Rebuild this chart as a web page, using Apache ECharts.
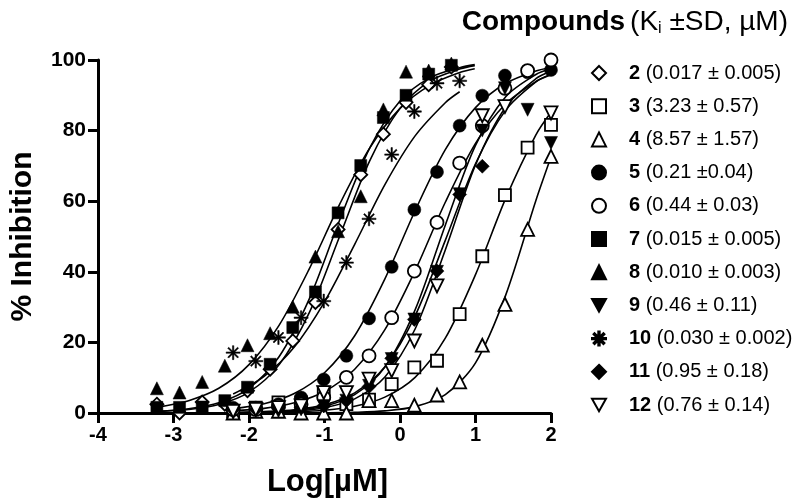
<!DOCTYPE html>
<html>
<head>
<meta charset="utf-8">
<script src="https://cdn.jsdelivr.net/npm/echarts@6/dist/echarts.min.js"></script>
<style>
html,body{margin:0;padding:0;background:#fff;}
#main{width:799px;height:503px;}
</style>
</head>
<body>
<div id="main"></div>
<script>
// concentrations (log uM)
var xPotent = [-3.22,-2.92,-2.62,-2.32,-2.02,-1.72,-1.42,-1.12,-0.82,-0.52,-0.22,0.08,0.38,0.68];
var xWeak = [-2.21,-1.91,-1.61,-1.31,-1.01,-0.71,-0.41,-0.11,0.19,0.49,0.79,1.09,1.39,1.69,2.0];

// % inhibition, measured points
var c2 = [2.5,0,3.1,2.5,6.3,12.4,20.4,31.3,52,67.5,79,88,93,98];
var c7 = [1.6,1.6,1.7,3.5,7.3,13.8,24.2,34.3,56.7,70.1,83.7,90,96,98.5];
var c8 = [7.0,5.8,8.8,13.4,19.2,22.6,30.1,44.3,51.5,61.4,86,96.7,97,99];
var c10 = [17.1,14.7,21.4,27.0,31.7,42.6,55,73.2,85.4,93.4,94.1];
var c3 = [0.5,1.5,3,3,5.8,2.5,3.8,8.2,12.9,14.8,28,44.4,61.7,75.2,81.6];
var c4 = [0,0.5,0.5,0,0,0,3.5,3.5,2.2,5.1,8.8,19.2,30.8,52,72.7];
var c5 = [1.5,1.5,2.5,4.4,9.5,16.2,26.8,41.4,57.6,68.3,81.4,89.9,95.6,96.5,97.2];
var c6 = [1,1,2,2.5,4.4,10.1,16.2,27,40.2,54,70.8,81.4,92,97,100];
var c9 = [0,1,0.5,1,2,3.5,7.7,15.3,26.5,40,62,80,92,85.9,76.5];
var c11 = [1,1,1.5,1.5,2,3.5,7.5,15.5,26.5,40.2,61.9,69.9];
var c12 = [0.5,1,1.5,2,5.8,5.8,9.6,12,20.4,36,null,84.2,86.8,null,85];

// fitted curves
var fitXPotent = [-3.22,-2.8,-2.4,-2.0,-1.6,-1.2,-0.8,-0.4,0,0.4,0.8,0.99];
var fit2 = [0.4,1.0,2.4,5.9,13.7,28.5,50.0,71.5,86.3,94.1,97.5,98.4];
var fit7 = [0.45,1.2,2.9,7.0,16.0,32.4,54.6,75.1,88.4,95.0,97.9,98.7];
var fit8 = [1.6,3.5,7.0,13.7,24.9,40.9,59.1,75.1,86.3,92.9,96.5,97.5];
var fitX10 = [-2.21,-1.8,-1.4,-1.0,-0.6,-0.2,0.2,0.6,0.79];
var fit10 = [5.4,10.4,18.7,31.5,47.8,64.7,78.5,87.9,91.0];
var fitXWeak = [-2.21,-1.8,-1.4,-1.0,-0.6,-0.2,0.2,0.6,1.0,1.4,1.8,2.0];
var fit3 = [0.06,0.14,0.34,0.8,1.9,4.5,10.1,21.2,39.2,60.8,78.8,85.2];
var fit4 = [0,0,0.02,0.07,0.2,0.6,1.8,5.2,14.2,33.4,60.2,72.5];
var fit5 = [1.2,2.6,5.5,11.4,21.9,38.0,57.3,74.6,86.5,93.4,96.9,97.8];
var fit6 = [0.6,1.3,2.9,6.1,12.4,23.6,40.3,59.7,76.4,87.6,93.9,95.8];
var fit9 = [0.09,0.26,0.7,1.9,5.2,13.0,29.2,53.2,75.8,89.6,95.9,97.5];
var fit11 = [0.15,0.4,0.9,2.3,5.7,13.1,27.5,48.9,70.6,85.8,93.8,96.0];
var fit12 = [0.07,0.2,0.5,1.5,4.0,10.2,23.8,46.2,70.3,86.7,94.7,96.8];

var names = ['2','3','4','5','6','7','8','9','10','11','12'];
var kiText = ['(0.017 \u00b1 0.005)','(3.23 \u00b1 0.57)','(8.57 \u00b1 1.57)','(0.21 \u00b10.04)','(0.44 \u00b1 0.03)',
  '(0.015 \u00b1 0.005)','(0.010 \u00b1 0.003)','(0.46 \u00b1 0.11)','(0.030 \u00b1 0.002)','(0.95 \u00b1 0.18)','(0.76 \u00b1 0.14)'];

var FONT = '"Liberation Sans", Arial, Helvetica, sans-serif';
var downTri = 'path://M0,0 L10,0 L5,9 Z';
var star = 'path://M-1,-10 L1,-10 L1,10 L-1,10 Z M-10,-1 L10,-1 L10,1 L-10,1 Z ' +
  'M-6.36,-7.78 L7.78,6.36 L6.36,7.78 L-7.78,-6.36 Z M6.36,-7.78 L7.78,-6.36 L-6.36,7.78 L-7.78,6.36 Z';

function pairs(xs, ys) {
  var out = [];
  for (var i = 0; i < ys.length; i++) {
    if (ys[i] !== null) out.push([xs[i], ys[i]]);
  }
  return out;
}

var pts = {
  '2': {d: pairs(xPotent, c2), sym: 'diamond', size: 13, open: true},
  '3': {d: pairs(xWeak, c3), sym: 'rect', size: 12, open: true},
  '4': {d: pairs(xWeak, c4), sym: 'triangle', size: 13, open: true},
  '5': {d: pairs(xWeak, c5), sym: 'circle', size: 13, open: false},
  '6': {d: pairs(xWeak, c6), sym: 'circle', size: 13, open: true},
  '7': {d: pairs(xPotent, c7), sym: 'rect', size: 12, open: false},
  '8': {d: pairs(xPotent, c8), sym: 'triangle', size: 13, open: false},
  '9': {d: pairs(xWeak, c9), sym: downTri, size: 13, open: false},
  '10': {d: pairs(xWeak, c10), sym: star, size: 14, open: false},
  '11': {d: pairs(xWeak, c11), sym: 'diamond', size: 14, open: false},
  '12': {d: pairs(xWeak, c12), sym: downTri, size: 13, open: true}
};
var fits = [
  pairs(fitXPotent, fit2), pairs(fitXWeak, fit3), pairs(fitXWeak, fit4), pairs(fitXWeak, fit5),
  pairs(fitXWeak, fit6), pairs(fitXPotent, fit7), pairs(fitXPotent, fit8), pairs(fitXWeak, fit9),
  pairs(fitX10, fit10), pairs(fitXWeak, fit11), pairs(fitXWeak, fit12)
];

var series = [];
fits.forEach(function (f, i) {
  series.push({
    name: 'fit' + names[i], type: 'line', data: f, smooth: 0.3,
    showSymbol: false, silent: true, z: 1,
    lineStyle: {color: '#000', width: 1.6}
  });
});
names.forEach(function (n) {
  var p = pts[n];
  series.push({
    name: n, type: 'scatter', data: p.d, symbol: p.sym, symbolSize: p.size, z: 3,
    itemStyle: p.open ? {color: '#fff', borderColor: '#000', borderWidth: 1.8, opacity: 1}
                      : {color: '#000', borderColor: '#000', borderWidth: 0.5, opacity: 1}
  });
});

var myChart = echarts.init(document.getElementById('main'));
var option = {
  animation: false,
  backgroundColor: '#fff',
  title: {
    text: '{b|Compounds} {n|(K}{s|i}{n| \u00b1SD, \u00b5M)}',
    right: 6, top: 2,
    textStyle: {
      rich: {
        b: {fontFamily: FONT, fontSize: 28, fontWeight: 'bold', color: '#000'},
        n: {fontFamily: FONT, fontSize: 28, fontWeight: 'normal', color: '#000'},
        s: {fontFamily: FONT, fontSize: 16, fontWeight: 'normal', color: '#000', verticalAlign: 'bottom', padding: [14, 0, 0, 0]}
      }
    }
  },
  legend: {
    orient: 'vertical', left: 586, top: 58,
    itemWidth: 14, itemHeight: 14, itemGap: 13.2,
    data: names,
    formatter: function (name) {
      return '{b|' + name + '} {n|' + kiText[names.indexOf(name)] + '}';
    },
    textStyle: {
      fontFamily: FONT, fontSize: 20, lineHeight: 20, color: '#000',
      rich: {
        b: {fontFamily: FONT, fontSize: 20, fontWeight: 'bold', color: '#000', padding: [0, 0, 0, 18]},
        n: {fontFamily: FONT, fontSize: 20, color: '#000'}
      }
    }
  },
  grid: {left: 79, right: 248, top: 60, bottom: 89},
  xAxis: {
    type: 'value', min: -4, max: 2, interval: 1,
    name: 'Log[\u00b5M]', nameLocation: 'middle', nameGap: 54,
    nameTextStyle: {fontFamily: FONT, fontSize: 31, fontWeight: 'bold', color: '#000', padding: [0, 0, 0, 6]},
    axisLine: {onZero: false, lineStyle: {color: '#000', width: 3}},
    axisTick: {length: 10, lineStyle: {color: '#000', width: 3}},
    axisLabel: {margin: 12, fontFamily: FONT, fontSize: 20, fontWeight: 'bold', color: '#000'},
    splitLine: {show: false}
  },
  yAxis: {
    type: 'value', min: 0, max: 100, interval: 20,
    name: '% Inhibition', nameLocation: 'middle', nameGap: 60, nameRotate: 90,
    nameTextStyle: {fontFamily: FONT, fontSize: 30, fontWeight: 'bold', color: '#000'},
    axisLine: {show: true, onZero: false, lineStyle: {color: '#000', width: 3}},
    axisTick: {show: true, length: 10, lineStyle: {color: '#000', width: 3}},
    axisLabel: {margin: 12, fontFamily: FONT, fontSize: 21, fontWeight: 'bold', color: '#000'},
    splitLine: {show: false}
  },
  series: series
};
myChart.setOption(option);
</script>
</body>
</html>
